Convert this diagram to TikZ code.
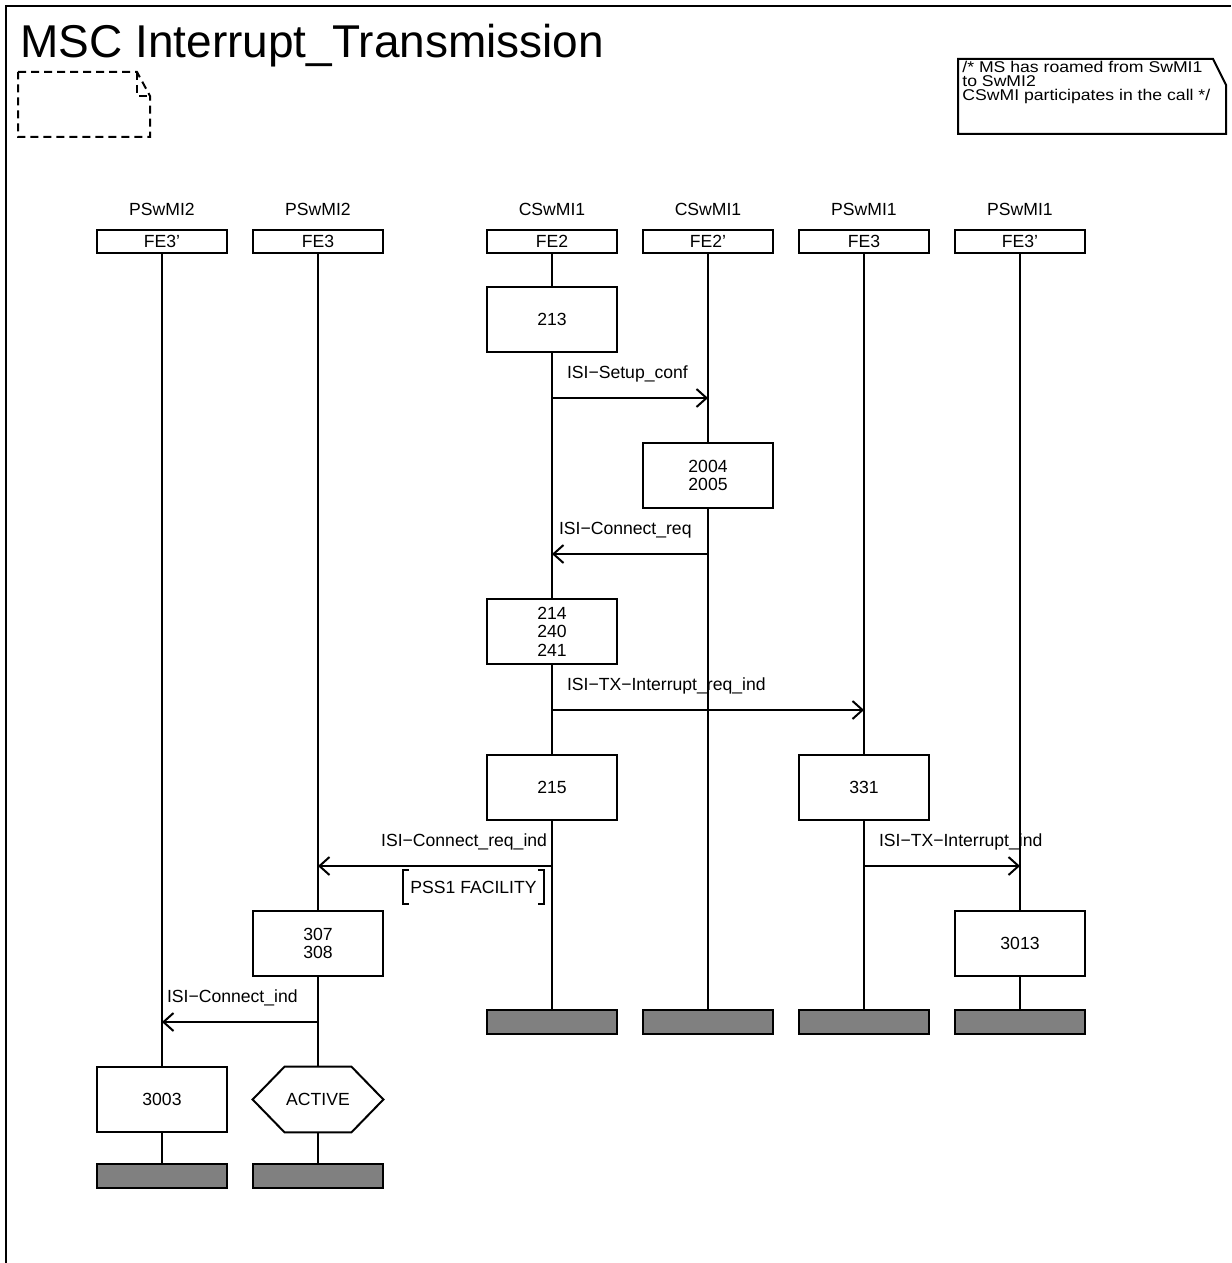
\documentclass[tikz,border=0pt]{standalone}
\usepackage{fontspec}
\setmainfont{Liberation Sans}
\newfontfamily\notefont[FakeStretch=1.13]{Liberation Sans}
\usetikzlibrary{positioning, arrows.meta}
\tikzset{
    every node/.style={
        font=\fontsize{8.8}{9.2}\selectfont
    },
    instance/.style={
        draw,
        line width=1pt,
        minimum width=65pt,
        minimum height=11.5pt,
        inner sep=0pt
    },
    action/.style={
        draw,
        line width=1pt,
        fill=white,
        minimum width=65pt,
        minimum height=32.5pt,
        inner sep=0pt,
        align=center
    },
    condition/.style={
        minimum width=65pt,
        minimum height=32.5pt,
        inner sep=0pt
    },
    stopbar/.style={
        draw,
        line width=1pt,
        fill=gray,
        minimum width=65pt,
        minimum height=12pt,
        inner sep=0pt
    },
    lifeline/.style={line width=1pt},
    msg/.style={
        line width=1pt,
        -{Straight Barb[length=5pt, width=9pt, line width=1pt]}
    },
    msglabel/.style={inner sep=0pt}
}

\begin{document}
\begin{tikzpicture}[x=0.5pt, y=-0.5pt, node distance=78pt, on grid]
            \useasboundingbox (0,0) rectangle (1231,1263);

            % Frame and title
            \draw [line width=1pt] (6,1263) -- (6,6) -- (1231,6);
            \node (title) [anchor=base west, inner sep=0pt,
                font=\fontsize{23}{26}\selectfont] at (20,58)
                {MSC Interrupt\_Transmission};

            % Empty text symbol
            \draw [line width=1pt, dash pattern=on 4pt off 2.5pt]
                (18,72) -- (137,72) -- (150,96) -- (150,137) -- (18,137) -- cycle;
            \draw [line width=1pt, dash pattern=on 4pt off 2.5pt]
                (137,72) -- (137,96) -- (150,96);

            % Comment
            \draw [line width=1pt]
                (958,59) -- (1213,59) -- (1226,85) -- (1226,134) -- (958,134) -- cycle;
            \node (note) [anchor=north west, align=left, inner sep=0pt,
                font=\notefont\fontsize{7.8}{7}\selectfont] at (962,61)
                {/* MS has roamed from SwMI1\\to SwMI2\\CSwMI participates in the call */};

            % Instances
            \node (p2fe3b) [instance] at (162,241.5) {FE3'};
            \node (p2fe3) [instance, right=of p2fe3b] {FE3};
            \node (c1fe2) [instance, right=117pt of p2fe3] {FE2};
            \node (c1fe2b) [instance, right=of c1fe2] {FE2'};
            \node (p1fe3) [instance, right=of c1fe2b] {FE3};
            \node (p1fe3b) [instance, right=of p1fe3] {FE3'};

            \node (p2fe3bname) [above=16.25pt of p2fe3b] {PSwMI2};
            \node (p2fe3name) [above=16.25pt of p2fe3] {PSwMI2};
            \node (c1fe2name) [above=16.25pt of c1fe2] {CSwMI1};
            \node (c1fe2bname) [above=16.25pt of c1fe2b] {CSwMI1};
            \node (p1fe3name) [above=16.25pt of p1fe3] {PSwMI1};
            \node (p1fe3bname) [above=16.25pt of p1fe3b] {PSwMI1};

            % Actions
            \node (a213) [action] at (c1fe2 |- 0,319.5) {213};
            \node (a2004) [action] at (c1fe2b |- 0,475.5) {2004\\2005};
            \node (a214) [action] at (c1fe2 |- 0,631.5) {214\\240\\241};
            \node (a215) [action] at (c1fe2 |- 0,787.5) {215};
            \node (a331) [action] at (p1fe3 |- 0,787.5) {331};
            \node (a307) [action] at (p2fe3 |- 0,943.5) {307\\308};
            \node (a3013) [action] at (p1fe3b |- 0,943.5) {3013};
            \node (a3003) [action] at (p2fe3b |- 0,1099.5) {3003};

            % Condition
            \node (active) [condition] at (p2fe3 |- 0,1099.5) {ACTIVE};
            \draw [line width=1pt] (active.west) -- ([xshift=16pt]active.north west)
                -- ([xshift=-16pt]active.north east) -- (active.east)
                -- ([xshift=-16pt]active.south east) -- ([xshift=16pt]active.south west)
                -- cycle;

            % Stops
            \node (stop1) [stopbar] at (p2fe3b |- 0,1176) {};
            \node (stop2) [stopbar] at (p2fe3 |- 0,1176) {};
            \node (stop3) [stopbar] at (c1fe2 |- 0,1022) {};
            \node (stop4) [stopbar] at (c1fe2b |- 0,1022) {};
            \node (stop5) [stopbar] at (p1fe3 |- 0,1022) {};
            \node (stop6) [stopbar] at (p1fe3b |- 0,1022) {};

            % Lifelines
            \draw [lifeline] (p2fe3b) -- (a3003) -- (stop1);
            \draw [lifeline] (p2fe3) -- (a307) -- (active) -- (stop2);
            \draw [lifeline] (c1fe2) -- (a213) -- (a214) -- (a215) -- (stop3);
            \draw [lifeline] (c1fe2b) -- (a2004) -- (stop4);
            \draw [lifeline] (p1fe3) -- (a331) -- (stop5);
            \draw [lifeline] (p1fe3b) -- (a3013) -- (stop6);

            % Message ends
            \coordinate (setupA) at (c1fe2 |- 0,398);
            \coordinate (setupB) at (c1fe2b |- 0,398);
            \coordinate (connA) at (c1fe2b |- 0,554);
            \coordinate (connB) at (c1fe2 |- 0,554);
            \coordinate (txreqA) at (c1fe2 |- 0,710);
            \coordinate (txreqB) at (p1fe3 |- 0,710);
            \coordinate (connindA) at (c1fe2 |- 0,866);
            \coordinate (connindB) at (p2fe3 |- 0,866);
            \coordinate (txindA) at (p1fe3 |- 0,866);
            \coordinate (txindB) at (p1fe3b |- 0,866);
            \coordinate (indA) at (p2fe3 |- 0,1022);
            \coordinate (indB) at (p2fe3b |- 0,1022);

            % Messages
            \draw [msg] (setupA) -- node [msglabel, at start, anchor=base west,
                xshift=7pt, yshift=10pt] {ISI−Setup\_conf} (setupB);
            \draw [msg] (connA) -- node [msglabel, at end, anchor=base west,
                xshift=3pt, yshift=10pt] {ISI−Connect\_req} (connB);
            \draw [msg] (txreqA) -- node [msglabel, at start, anchor=base west,
                xshift=7pt, yshift=10pt] {ISI−TX−Interrupt\_req\_ind} (txreqB);
            \draw [msg] (connindA) -- node [msglabel, at start, anchor=base east,
                xshift=-2pt, yshift=10pt] {ISI−Connect\_req\_ind} (connindB);
            \draw [msg] (txindA) -- node [msglabel, at start, anchor=base west,
                xshift=7pt, yshift=10pt] {ISI−TX−Interrupt\_ind} (txindB);
            \draw [msg] (indA) -- node [msglabel, at end, anchor=base west,
                xshift=2pt, yshift=10pt] {ISI−Connect\_ind} (indB);

            % Parameter
            \node (pss) [inner xsep=3.5pt, inner ysep=0pt, minimum height=17pt]
                at (473.5,887) {PSS1 FACILITY};
            \draw [line width=1pt] ([xshift=3pt]pss.north west) -- (pss.north west)
                -- (pss.south west) -- ++(3pt,0);
            \draw [line width=1pt] ([xshift=-3pt]pss.north east) -- (pss.north east)
                -- (pss.south east) -- ++(-3pt,0);
        \end{tikzpicture}
\end{document}
